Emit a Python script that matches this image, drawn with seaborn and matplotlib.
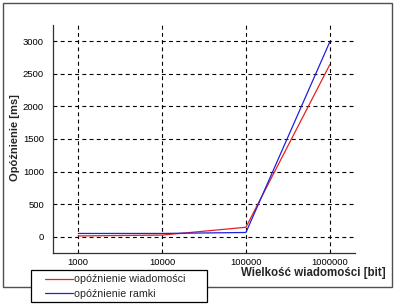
import matplotlib
matplotlib.use("Agg")
import matplotlib.pyplot as plt
import matplotlib.ticker as mticker
from matplotlib.patches import Rectangle
import seaborn as sns
import pandas as pd
import numpy as np

# Data
sizes = [1000, 10000, 100000, 1000000]
msg_delay = [12, 25, 145, 2640]
frame_delay = [50, 50, 65, 2990]
series_names = ["opóźnienie wiadomości", "opóźnienie ramki"]
y_ticks = [0, 500, 1000, 1500, 2000, 2500, 3000]
x_ticks = [1000, 10000, 100000, 1000000]
x_label = "Wielkość wiadomości [bit]"
y_label = "Opóźnienie [ms]"

df = pd.DataFrame({
    "size": sizes * 2,
    "delay": msg_delay + frame_delay,
    "series": [series_names[0]] * len(sizes) + [series_names[1]] * len(sizes),
})

sns.set_theme(style="white")
plt.rcParams["font.family"] = ["Liberation Sans", "DejaVu Sans"]

W, H = 396, 305
fig = plt.figure(figsize=(W / 100, H / 100), dpi=100)
ax = fig.add_axes([53 / W, 1 - 253 / H, (355 - 53) / W, (253 - 25) / H])

# outer frame
fig.patches.append(Rectangle((3 / W, 1 - 287 / H), 389 / W, 284 / H,
                             transform=fig.transFigure, fill=False,
                             edgecolor="#505050", linewidth=1.0, zorder=0))
# legend box
fig.patches.append(Rectangle((31 / W, 1 - 302 / H), 176 / W, 32 / H,
                             transform=fig.transFigure, facecolor="white",
                             edgecolor="black", linewidth=0.9, zorder=4))

ax.set_xscale("log")
ax.set_xlim(500, 2e6)
ax.set_ylim(-250, 3250)

sns.lineplot(data=df, x="size", y="delay", hue="series",
             palette={series_names[0]: "#e82020", series_names[1]: "#2020e0"},
             linewidth=0.9, ax=ax, legend=False, zorder=3)

ax.set_xticks(x_ticks)
ax.set_xticklabels([str(v) for v in x_ticks])
ax.xaxis.set_minor_locator(mticker.LogLocator(base=10, subs=np.arange(2, 10)))
ax.xaxis.set_minor_formatter(mticker.NullFormatter())
ax.set_yticks(y_ticks)
ax.set_yticklabels([str(v) for v in y_ticks])
ax.yaxis.set_minor_locator(mticker.MultipleLocator(250))

ax.grid(True, which="major", color="black", linestyle=(0, (3.5, 3)), linewidth=0.8)
ax.set_axisbelow(True)

for s in ["top", "right"]:
    ax.spines[s].set_visible(False)
for s in ["left", "bottom"]:
    ax.spines[s].set_color("#303030")
    ax.spines[s].set_linewidth(0.9)

ax.tick_params(axis="both", which="major", labelsize=6.8, colors="#303030",
               labelcolor="black", width=0.8, length=3, direction="out", pad=0.5)
ax.tick_params(axis="x", which="minor", direction="in", length=2.5, width=0.7,
               colors="#303030")
ax.tick_params(axis="y", which="minor", direction="out", length=2.5, width=0.7,
               colors="#303030")
ax.tick_params(axis="y", which="major", direction="inout", length=7, pad=3)
ax.set_xlabel("")
ax.set_ylabel("")

fig.text(15 / W, 1 - 138 / H, y_label, rotation=90, ha="center", va="center",
         fontsize=8, fontweight="bold")
fig.text(386 / W, 1 - 273 / H, x_label, ha="right", va="center",
         fontsize=8.3, fontweight="bold")

handles = [plt.Line2D([], [], color="#e82020", linewidth=0.9),
           plt.Line2D([], [], color="#2020e0", linewidth=0.9)]
leg = fig.legend(handles, series_names, loc="upper left",
                 bbox_to_anchor=(45 / W, 1 - 274.5 / H), fontsize=7.7,
                 frameon=False, handlelength=2.6, handletextpad=0.15,
                 labelspacing=0.42, borderpad=0, borderaxespad=0)
leg.set_zorder(5)

fig.savefig("out.png", dpi=100)
